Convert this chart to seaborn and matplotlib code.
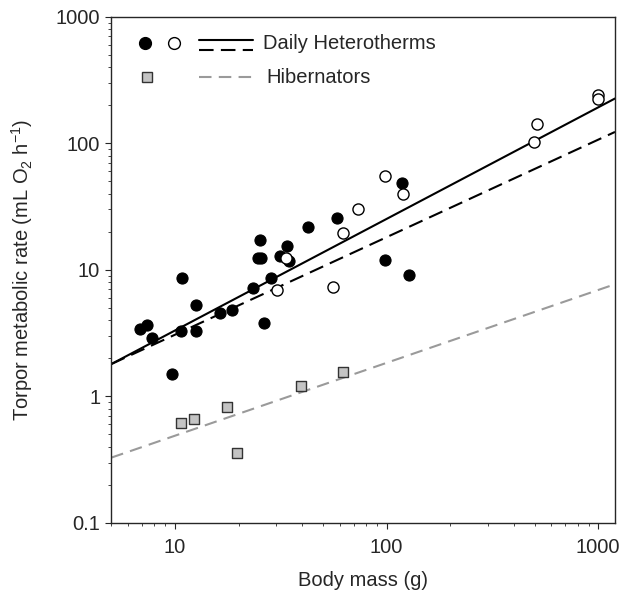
import numpy as np
import pandas as pd
import seaborn as sns
import matplotlib.pyplot as plt
from matplotlib.ticker import LogLocator, NullFormatter

# daily heterotherms, filled symbols
dh_filled_mass = [6.8, 7.4, 7.8, 9.7, 10.7, 10.8, 12.6, 12.6, 16.4, 18.5, 23.4,
                  24.6, 25.5, 25.3, 26.3, 28.3, 31.2, 33.7, 34.5, 42.5, 58.6,
                  97.8, 118, 127.7]
dh_filled_rate = [3.4, 3.65, 2.9, 1.5, 3.3, 8.6, 5.25, 3.28, 4.6, 4.8, 7.2,
                  12.5, 12.5, 17.3, 3.8, 8.7, 12.9, 15.3, 11.8, 21.9, 25.7,
                  12.0, 48.2, 9.1]

# daily heterotherms, open symbols
dh_open_mass = [30.2, 33.3, 56.1, 61.9, 73.6, 97.8, 119.6, 498, 514, 993, 993]
dh_open_rate = [6.9, 12.5, 7.3, 19.6, 30.3, 55.4, 39.9, 102, 143, 240, 226]

# hibernators
hib_mass = [10.7, 12.3, 17.6, 19.6, 39.4, 61.9]
hib_rate = [0.62, 0.66, 0.83, 0.36, 1.21, 1.57]

# regression line end points
line_mass = [5, 1200]
dh_solid_rate = [1.80, 226]
dh_dashed_rate = [1.80, 123]
hib_line_rate = [0.328, 7.7]

sns.set_style("ticks")
plt.rcParams['font.family'] = ['Liberation Sans', 'DejaVu Sans']
plt.rcParams['mathtext.fontset'] = 'custom'
plt.rcParams['mathtext.rm'] = 'Liberation Sans'
plt.rcParams['mathtext.it'] = 'Liberation Sans'
plt.rcParams['mathtext.default'] = 'regular'

FS = 14.5
BLACK_DASH = (0, (7, 3.5))
GRAY_DASH = (0, (6, 3.5))

fig = plt.figure(figsize=(6.25, 5.99), dpi=100)
ax = fig.add_axes([0.178, 0.127, 0.806, 0.845])

lines = pd.DataFrame({"mass": line_mass, "solid": dh_solid_rate,
                      "dashed": dh_dashed_rate, "hib": hib_line_rate})
sns.lineplot(data=lines, x="mass", y="solid", ax=ax, color="black", lw=1.5)
sns.lineplot(data=lines, x="mass", y="dashed", ax=ax, color="black", lw=1.5,
             linestyle=BLACK_DASH)
sns.lineplot(data=lines, x="mass", y="hib", ax=ax, color="#9a9a9a", lw=1.5,
             linestyle=GRAY_DASH)

sns.scatterplot(x=dh_filled_mass, y=dh_filled_rate, ax=ax, s=64,
                color="black", edgecolor="black", linewidth=0.8, zorder=3)
sns.scatterplot(x=dh_open_mass, y=dh_open_rate, ax=ax, s=64,
                facecolor="white", edgecolor="black", linewidth=1.0, zorder=3)
sns.scatterplot(x=hib_mass, y=hib_rate, ax=ax, s=50, marker="s",
                color="#c4c4c4", edgecolor="#333333", linewidth=1.0, zorder=3)

ax.set_xscale("log")
ax.set_yscale("log")
ax.set_xlim(5, 1200)
ax.set_ylim(0.1, 1000)

ax.set_xticks([10, 100, 1000])
ax.set_xticklabels(["10", "100", "1000"])
ax.set_yticks([0.1, 1, 10, 100, 1000])
ax.set_yticklabels(["0.1", "1", "10", "100", "1000"])
ax.xaxis.set_minor_locator(LogLocator(base=10, subs=np.arange(2, 10)))
ax.yaxis.set_minor_locator(LogLocator(base=10, subs=np.arange(2, 10)))
ax.xaxis.set_minor_formatter(NullFormatter())
ax.yaxis.set_minor_formatter(NullFormatter())
ax.tick_params(which="major", length=4, width=0.8, labelsize=FS, direction="out")
ax.tick_params(axis="x", which="major", pad=7)
ax.tick_params(axis="y", which="major", pad=4)
ax.tick_params(which="minor", length=2, width=0.6, direction="out")
for sp in ax.spines.values():
    sp.set_visible(True)
    sp.set_linewidth(1.0)

ax.set_xlabel("Body mass (g)", fontsize=FS, labelpad=10)
ax.set_ylabel("Torpor metabolic rate (mL O$_2$ h$^{-1}$)", fontsize=FS, labelpad=15)

# hand-made legend
tr = ax.transAxes
ax.plot([0.067], [0.949], "o", ms=8.5, color="black", transform=tr)
ax.plot([0.125], [0.949], "o", ms=8.5, mfc="white", mec="black", mew=1.0, transform=tr)
ax.plot([0.174, 0.281], [0.955, 0.955], color="black", lw=1.5, transform=tr)
ax.plot([0.174, 0.281], [0.935, 0.935], color="black", lw=1.5,
        linestyle=BLACK_DASH, transform=tr)
ax.text(0.301, 0.947, "Daily Heterotherms", fontsize=FS, va="center", transform=tr)
ax.plot([0.071], [0.881], "s", ms=7, mfc="#c4c4c4", mec="#333333", mew=1.0, transform=tr)
ax.plot([0.174, 0.281], [0.881, 0.881], color="#9a9a9a", lw=1.5,
        linestyle=GRAY_DASH, transform=tr)
ax.text(0.307, 0.881, "Hibernators", fontsize=FS, va="center", transform=tr)

fig.savefig("out.png", dpi=100)
